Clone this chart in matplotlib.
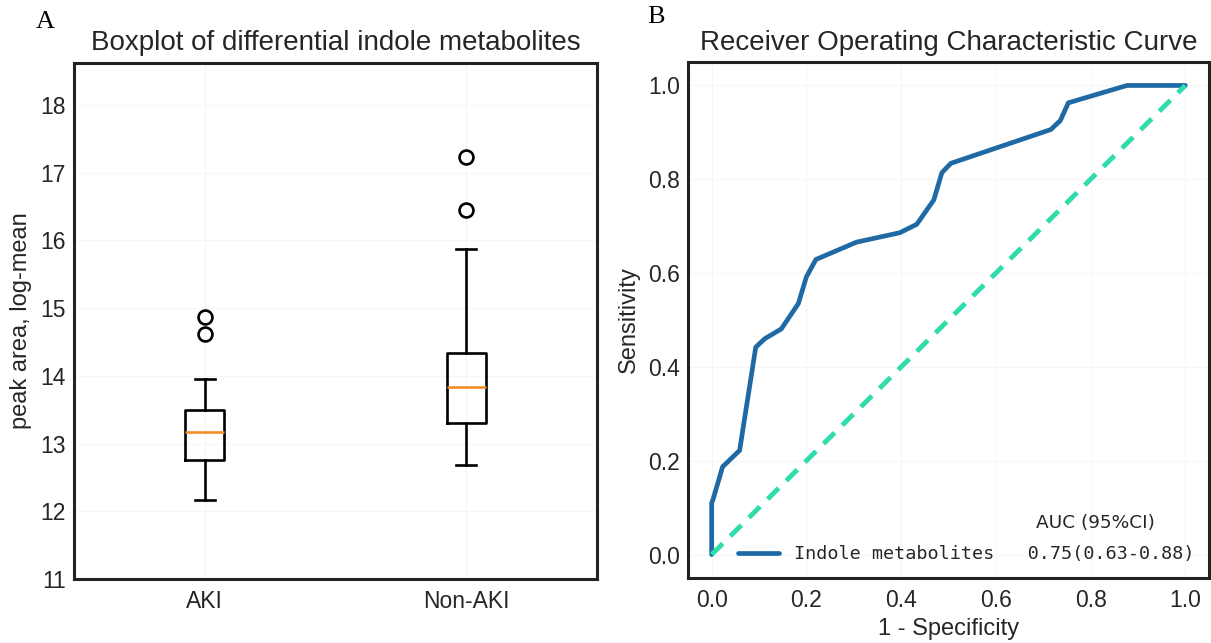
import matplotlib
matplotlib.use("Agg")
import matplotlib.pyplot as plt

# ---------------- data ----------------
groups = ["AKI", "Non-AKI"]
medians = [13.17, 13.83]
q1s = [12.75, 13.30]
q3s = [13.49, 14.34]
whisk_lo = [12.16, 12.69]
whisk_hi = [13.95, 15.87]
outliers = [[14.62, 14.87], [16.45, 17.23]]

fpr = [0.0, 0.0, 0.003, 0.023, 0.059, 0.093, 0.112, 0.147, 0.183, 0.200, 0.220,
       0.306, 0.397, 0.433, 0.469, 0.486, 0.505, 0.716, 0.736, 0.753, 0.877, 1.0]
tpr = [0.0, 0.11, 0.118, 0.187, 0.222, 0.442, 0.460, 0.481, 0.535, 0.592, 0.629,
       0.666, 0.686, 0.704, 0.756, 0.814, 0.834, 0.906, 0.925, 0.963, 1.0, 1.0]
auc_label = "Indole metabolites   0.75(0.63-0.88)"
auc_header = "AUC (95%CI)"

# ---------------- figure ----------------
plt.rcParams["font.family"] = ["Liberation Sans", "DejaVu Sans"]
fig = plt.figure(figsize=(12.11, 6.43), dpi=100)
fig.patch.set_facecolor("white")

W, H = 1211, 643
def rect(x0, x1, ytop, ybot):
    return [x0 / W, 1 - ybot / H, (x1 - x0) / W, (ybot - ytop) / H]

ax1 = fig.add_axes(rect(74, 597, 63, 579))
ax2 = fig.add_axes(rect(688, 1209, 62, 578))

txt_col = "#262626"
for ax in (ax1, ax2):
    for s in ax.spines.values():
        s.set_color("#222222")
        s.set_linewidth(2.2)
    ax.grid(True, color="#f6f6f6", linewidth=0.8)
    ax.set_axisbelow(True)
    ax.tick_params(length=0, labelsize=16.5, labelcolor=txt_col)
    ax.tick_params(axis="y", pad=6)
    ax.tick_params(axis="x", pad=8)

# ---- Panel A: boxplot ----
stats = []
for i, g in enumerate(groups):
    stats.append(dict(label=g, med=medians[i], q1=q1s[i], q3=q3s[i],
                      whislo=whisk_lo[i], whishi=whisk_hi[i], fliers=outliers[i]))
ax1.bxp(stats, positions=[1, 2], widths=0.15,
        boxprops=dict(color="black", linewidth=1.9),
        whiskerprops=dict(color="black", linewidth=1.9),
        capprops=dict(color="black", linewidth=1.9),
        medianprops=dict(color="#f28e2b", linewidth=1.9),
        flierprops=dict(marker="o", markerfacecolor="none", markeredgecolor="black",
                        markersize=10, markeredgewidth=1.9))
ax1.set_xlim(0.5, 2.5)
ax1.set_ylim(11, 18.62)
ax1.set_yticks(range(11, 19))
ax1.set_ylabel("peak area, log-mean", fontsize=17, color=txt_col, labelpad=6)
ax1.set_title("Boxplot of differential indole metabolites", fontsize=20, color=txt_col, pad=9)

# ---- Panel B: ROC ----
ax2.plot(fpr, tpr, color="#1f6aa5", linewidth=3.4, label=auc_label, solid_capstyle="round")
ax2.plot([0, 1], [0, 1], color="#2edcac", linewidth=3.5, linestyle=(0, (3.2, 2.2)))
ax2.set_xlim(-0.05, 1.05)
ax2.set_ylim(-0.05, 1.05)
ax2.set_xticks([0, 0.2, 0.4, 0.6, 0.8, 1.0])
ax2.set_yticks([0, 0.2, 0.4, 0.6, 0.8, 1.0])
ax2.set_xlabel("1 - Specificity", fontsize=17, color=txt_col, labelpad=4)
ax2.set_ylabel("Sensitivity", fontsize=17, color=txt_col, labelpad=6)
ax2.set_title("Receiver Operating Characteristic Curve", fontsize=20, color=txt_col, pad=9)
leg = ax2.legend(loc="lower right", frameon=False,
                 prop={"family": "DejaVu Sans Mono", "size": 13.3},
                 handlelength=2.2, borderaxespad=0.4)
for t in leg.get_texts():
    t.set_color(txt_col)
ax2.text(0.81, 0.068, auc_header, fontsize=13.3, family="DejaVu Sans",
         color=txt_col, ha="center", va="center")

# panel letters
fig.text(45 / W, 1 - 22 / H, "A", family="Liberation Serif", fontsize=19,
         ha="center", va="center", color="black")
fig.text(656 / W, 1 - 17 / H, "B", family="Liberation Serif", fontsize=19,
         ha="center", va="center", color="black")

fig.savefig("out.png", dpi=100, facecolor="white")
